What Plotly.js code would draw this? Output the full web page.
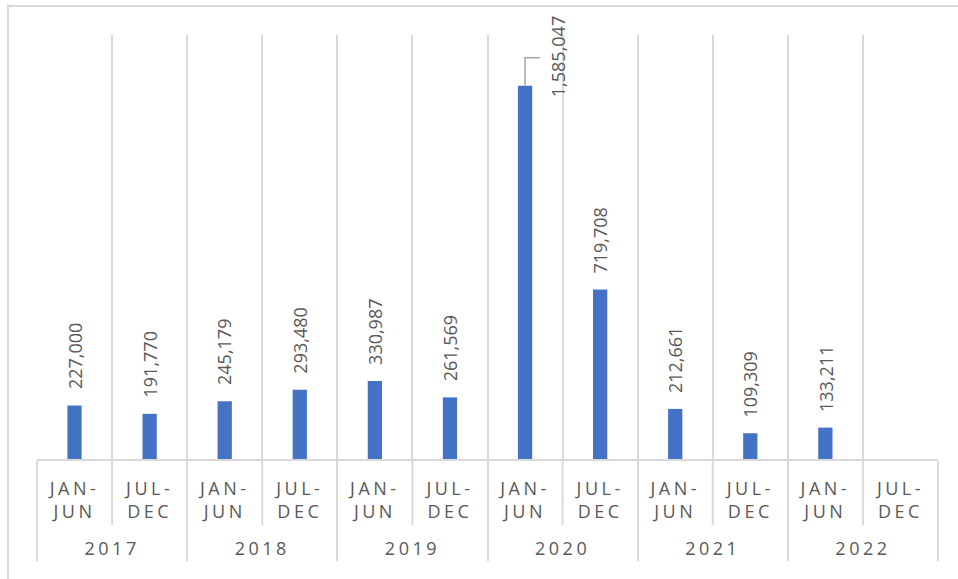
<!DOCTYPE html>
<html>
<head>
<meta charset="utf-8">
<script src="https://cdn.plot.ly/plotly-3.0.1.min.js"></script>
<style>
  html, body { margin: 0; padding: 0; background: #fff; }
  #wrap { position: relative; width: 958px; height: 579px; }
  #chart { position: absolute; left: 0; top: 0; width: 958px; height: 579px; }
  #frame { position: absolute; left: 7px; top: 5px; width: 960px; height: 600px;
           border-top: 2px solid #d9d9d9; border-left: 2px solid #d9d9d9; pointer-events: none; }
  .xaxislayer-above text { letter-spacing: 3.5px; }
</style>
</head>
<body>
<div id="wrap"><div id="chart"></div><div id="frame"></div></div>
<script>
const years = ['2017', '2018', '2019', '2020', '2021', '2022'];
const halves = ['JAN-<br>JUN<br>\u00a0', 'JUL-<br>DEC<br>\u00a0'];
const values = [227000, 191770, 245179, 293480, 330987, 261569, 1585047, 719708, 212661, 109309, 133211, null];

const xYears = [], xHalves = [];
years.forEach(y => halves.forEach(h => { xYears.push(y); xHalves.push(h); }));

const fmt = v => v.toLocaleString('en-US');
const labelFont = { family: 'Open Sans, Liberation Sans, sans-serif', size: 18, color: '#595959' };
const grid = '#d9d9d9';

let maxIdx = 0;
values.forEach((v, i) => { if (v !== null && v > values[maxIdx]) maxIdx = i; });

const annotations = [];
values.forEach((v, i) => {
  if (v === null) return;
  if (i === maxIdx) {
    annotations.push({ x: i, y: v, xref: 'x', yref: 'y', text: fmt(v), textangle: -90,
      showarrow: false, xanchor: 'center', yanchor: 'bottom', xshift: 33, yshift: -14, font: labelFont });
  } else {
    annotations.push({ x: i, y: v, xref: 'x', yref: 'y', text: fmt(v), textangle: -90,
      showarrow: false, xanchor: 'center', yanchor: 'bottom', yshift: 14, font: labelFont });
  }
});

const shapes = [];
// half-year separators extending below the axis
for (let k = 0; k < years.length; k++) {
  shapes.push({ type: 'line', xref: 'x', yref: 'paper', ysizemode: 'pixel', yanchor: 0,
    x0: 2 * k + 0.5, x1: 2 * k + 0.5, y0: 0, y1: -66, line: { color: grid, width: 2 } });
}
// leader line for the callout label
shapes.push({ type: 'path', xref: 'x', yref: 'y', xsizemode: 'pixel', ysizemode: 'pixel',
  xanchor: maxIdx, yanchor: values[maxIdx], path: 'M0,0V28H15', line: { color: '#a6a6a6', width: 1.5 } });

const trace = {
  type: 'bar',
  x: [xYears, xHalves],
  y: values,
  marker: { color: '#4472C4' },
  width: 0.19,
  hoverinfo: 'none'
};

const layout = {
  width: 958, height: 579,
  margin: { l: 37, r: 20, t: 35, b: 120 },
  paper_bgcolor: '#ffffff', plot_bgcolor: '#ffffff',
  showlegend: false,
  xaxis: {
    type: 'multicategory',
    tickson: 'boundaries',
    showgrid: true, gridcolor: grid, gridwidth: 2,
    showline: true, linecolor: grid, linewidth: 2,
    ticks: '',
    ticklabelstandoff: 12,
    showdividers: true, dividercolor: grid, dividerwidth: 2,
    tickfont: { family: 'Open Sans, Liberation Sans, sans-serif', size: 18, color: '#595959' },
    range: [-0.5, 11.5]
  },
  yaxis: {
    range: [0, 1800000],
    showgrid: false, zeroline: false, showticklabels: false, showline: false, ticks: ''
  },
  annotations: annotations,
  shapes: shapes
};

Plotly.newPlot('chart', [trace], layout, { displayModeBar: false, staticPlot: true });
</script>
</body>
</html>
